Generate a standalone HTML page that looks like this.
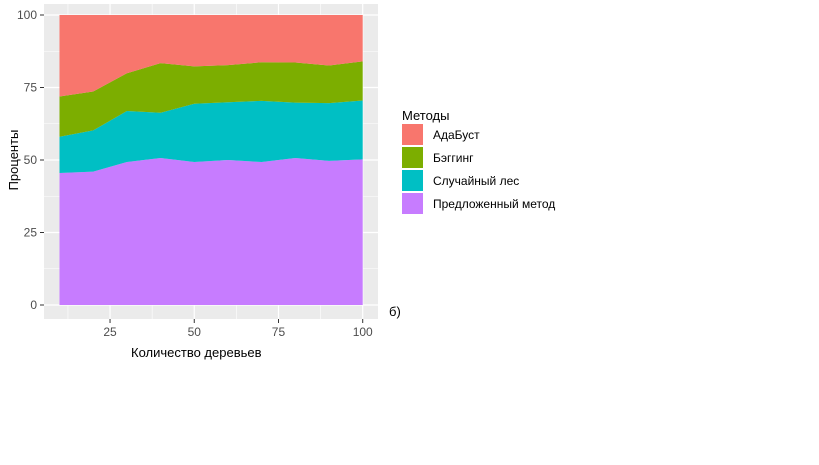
<!DOCTYPE html>
<html><head><meta charset="utf-8"><style>
body{margin:0;background:#fff;width:819px;height:460px;overflow:hidden;font-family:"Liberation Sans",sans-serif}
</style></head><body>
<svg width="819" height="460" font-family="Liberation Sans, DejaVu Sans, sans-serif">
<rect x="44" y="4" width="334" height="315" fill="#EBEBEB"/>
<g id="grid"></g>
<g id="areas"></g>
<g id="axes"></g>
<text x="131" y="357" font-size="13" fill="#000">Количество деревьев</text>
<text transform="translate(18,160) rotate(-90)" text-anchor="middle" font-size="13" fill="#000">Проценты</text>
<text x="389" y="316" font-size="13" fill="#000">б)</text>
<g>
<text x="402" y="120" font-size="13" fill="#000">Методы</text>
<g id="legend"></g>
</g>
</svg>
<script>
const trees=[10,20,30,40,50,60,70,80,90,100];
const proposed=[45.5,46,49.3,50.7,49.3,50,49.3,50.7,49.7,50.2];
const forest=[12.5,14.2,17.6,15.6,20.1,19.9,21.1,19.1,19.9,20.3];
const bagging=[13.9,13.4,13,17.1,12.9,12.8,13.3,13.8,13,13.5];
const adaboost=[28.1,26.4,20.1,16.6,17.7,17.3,16.3,16.4,17.4,16];
const seriesNames=["АдаБуст","Бэггинг","Случайный лес","Предложенный метод"];
const seriesColors=["#F8766D","#7CAE00","#00BFC4","#C77CFF"];
const xTicks=[25,50,75,100];
const yTicks=[0,25,50,75,100];
const NS="http://www.w3.org/2000/svg";
const X=v=>59.5+(v-10)*3.369;
const Y=v=>305-v*2.9;
function mk(tag,attrs,parent){const e=document.createElementNS(NS,tag);for(const k in attrs)e.setAttribute(k,attrs[k]);parent.appendChild(e);return e;}
const grid=document.getElementById('grid'),areas=document.getElementById('areas'),axes=document.getElementById('axes'),legend=document.getElementById('legend');
for(let i=0;i<yTicks.length-1;i++){const l=mk('line',{x1:44,x2:378,y1:Y((yTicks[i]+yTicks[i+1])/2),y2:Y((yTicks[i]+yTicks[i+1])/2),stroke:'#fff','stroke-width':0.6},grid);}
const xm=[12.5,37.5,62.5,87.5];
xm.forEach(v=>{const l=mk('line',{x1:X(v),x2:X(v),y1:4,y2:319,stroke:'#fff','stroke-width':0.6},grid);});
yTicks.forEach(v=>{const l=mk('line',{x1:44,x2:378,y1:Y(v),y2:Y(v),stroke:'#fff','stroke-width':1.2},grid);
const t=mk('line',{x1:40,x2:44,y1:Y(v),y2:Y(v),stroke:'#333'},axes);
const tx=mk('text',{x:37,y:Y(v)+4,'text-anchor':'end','font-size':12,fill:'#4D4D4D'},axes);tx.textContent=v;});
xTicks.forEach(v=>{const l=mk('line',{x1:X(v),x2:X(v),y1:4,y2:319,stroke:'#fff','stroke-width':1.2},grid);
const t=mk('line',{x1:X(v),x2:X(v),y1:319,y2:323,stroke:'#333'},axes);
const tx=mk('text',{x:X(v),y:336,'text-anchor':'middle','font-size':12,fill:'#4D4D4D'},axes);tx.textContent=v;});
const stackOrder=[proposed,forest,bagging,adaboost];
const colorOrder=[3,2,1,0];
let base=trees.map(()=>0);
stackOrder.forEach((s,si)=>{
 const top=base.map((b,i)=>b+s[i]);
 let d='M'+trees.map((t,i)=>X(t)+','+Y(top[i])).join(' L');
 for(let i=trees.length-1;i>=0;i--)d+=' L'+X(trees[i])+','+Y(base[i]);
 d+='Z';
 const p=mk('path',{d:d,fill:seriesColors[colorOrder[si]]},areas);
 
 
 base=top;
});
seriesNames.forEach((n,i)=>{
 const r=mk('rect',{x:402,y:124+i*23,width:21,height:21,fill:seriesColors[i]},legend);
 
 
 const t=mk('text',{x:433,y:139+i*23,'font-size':12,fill:'#000'},legend);
 t.textContent=n;
 
 
});
</script>
</body></html>
